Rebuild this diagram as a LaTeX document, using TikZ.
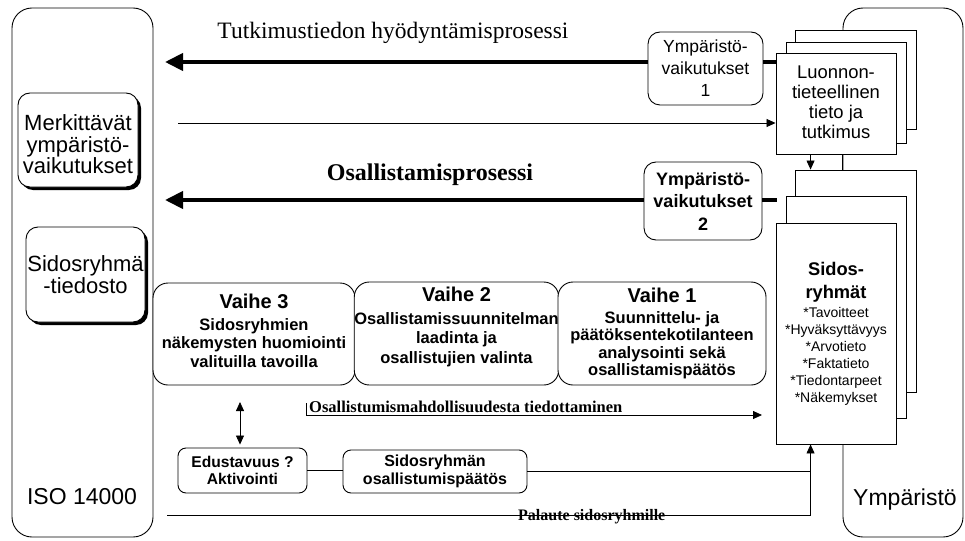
\documentclass[tikz,border=0pt]{standalone}
\usepackage{fontspec}
\setmainfont{Liberation Serif}
\setsansfont{Liberation Sans}
\usetikzlibrary{arrows.meta,shadows,calc}
\newcommand\fsz[2]{\fontsize{#1}{#2}\selectfont}
\begin{document}
\begin{tikzpicture}[x=1pt,y=-1pt,
  frame/.style={draw, line width=0.9pt, rounded corners=20pt, fill=white, inner sep=0pt},
  rbox/.style={draw, line width=0.9pt, rounded corners=12pt, fill=white, align=center, inner sep=0pt},
  sbox/.style={rbox, drop shadow={shadow xshift=3pt,shadow yshift=-3pt,fill=black,opacity=1}},
  sheet/.style={draw, line width=0.9pt, fill=white, inner sep=0pt, align=center},
  bigarrow/.style={line width=4pt, -{Triangle[length=18pt,width=17pt]}},
  thinline/.style={line width=0.8pt},
  thinarrow/.style={thinline, -{Triangle[length=9pt,width=8pt]}},
  txt/.style={inner sep=0pt, align=center}
]
\useasboundingbox (0,0) rectangle (965,540);

% frames
\node[frame, minimum width=141pt, minimum height=529pt] (lframe) at (82.5,272.5) {};
\node[frame, minimum width=120pt, minimum height=529pt] (rframe) at (903,272.5) {};
\node[txt, font=\sffamily\fsz{23}{26}] (iso) at (82,497) {ISO 14000};
\node[txt, font=\sffamily\fsz{23}{26}] (ymp) at (905,500) {Ympäristö};

% left boxes
\node[sbox, minimum width=120pt, minimum height=94pt, text height=68pt, font=\sffamily\fsz{22}{21.5}] (merk) at (78,140)
  {Merkittävät\\ympäristö-\\vaikutukset};
\node[sbox, minimum width=119pt, minimum height=95pt, font=\sffamily\fsz{22}{20.5}] (sidt) at (85.5,274.5)
  {Sidosryhmä\\-tiedosto};

% Luonnon stack
\node[sheet, minimum width=121pt, minimum height=99pt] (lback) at (855.5,79.5) {};
\node[sheet, minimum width=120pt, minimum height=101pt] (lmid) at (846,92.5) {};
\node[sheet, minimum width=120pt, minimum height=101pt, text height=70pt, font=\sffamily\fsz{18.4}{20}] (lfront) at (836,103.5)
  {Luonnon-\\tieteellinen\\tieto ja\\tutkimus};

% Sidosryhmat stack
\node[sheet, minimum width=121pt, minimum height=222pt] (sback) at (855.5,281) {};
\node[sheet, minimum width=120pt, minimum height=222pt] (smid) at (846,307) {};
\node[sheet, minimum width=120pt, minimum height=221pt, font=\sffamily\fsz{14}{17}] (sfront) at (836,333.5)
  {{\fsz{18.3}{23}\bfseries Sidos-}\\[6pt]{\fsz{18.3}{23}\bfseries ryhmät}\\[2pt]
   *Tavoitteet\\*Hyväksyttävyys\\*Arvotieto\\*Faktatieto\\*Tiedontarpeet\\*Näkemykset};

% Ymparistovaikutukset boxes
\node[rbox, minimum width=115pt, minimum height=73pt, font=\sffamily\fsz{17.5}{22}] (ymp1) at (705.5,68.5)
  {Ympäristö-\\vaikutukset\\1};
\node[rbox, minimum width=118pt, minimum height=78pt, font=\sffamily\bfseries\fsz{18}{22.5}] (ymp2) at (703,201)
  {Ympäristö-\\vaikutukset\\2};

% process titles
\node[txt, font=\rmfamily\fsz{23.5}{28}] (t1) at (393,33) {Tutkimustiedon hyödyntämisprosessi};
\node[txt, font=\rmfamily\bfseries\fsz{24}{28}] (t2) at (430,175) {Osallistamisprosessi};

% Vaihe boxes
\node[rbox, rounded corners=15pt, minimum width=202pt, minimum height=102pt, text depth=6pt, font=\sffamily\bfseries\fsz{16.5}{18.5}] (v3) at (254,334)
  {{\fsz{20}{22}Vaihe 3}\\[3pt]Sidosryhmien\\näkemysten huomiointi\\valituilla tavoilla};
\node[rbox, rounded corners=15pt, minimum width=203pt, minimum height=103pt, text depth=16pt, font=\sffamily\bfseries\fsz{16.5}{19.5}] (v2) at (456.5,333.5)
  {{\fsz{20}{22}Vaihe 2}\\[3pt]Osallistamissuunnitelman\\laadinta ja\\osallistujien valinta};
\node[rbox, rounded corners=15pt, minimum width=208pt, minimum height=103pt, font=\sffamily\bfseries\fsz{16.5}{17.5}] (v1) at (662,333.5)
  {{\fsz{20}{22}Vaihe 1}\\[3pt]Suunnittelu- ja\\päätöksentekotilanteen\\analysointi sekä\\osallistamispäätös};

% lower boxes
\node[rbox, rounded corners=8pt, minimum width=129pt, minimum height=45pt, font=\sffamily\bfseries\fsz{15.6}{17}] (edu) at (242.5,470.5)
  {Edustavuus ?\\Aktivointi};
\node[rbox, rounded corners=8pt, minimum width=184pt, minimum height=43pt, font=\sffamily\bfseries\fsz{16}{18}] (sdp) at (435,471.5)
  {Sidosryhmän\\osallistumispäätös};

% thick arrows
\coordinate (a1tip) at (165,62);
\draw[bigarrow] (ymp1.west |- a1tip) -- (a1tip);
\draw[line width=4pt] (ymp1.east |- a1tip) -- (lfront.west |- a1tip);
\coordinate (a2tip) at (165,200);
\coordinate (a2end) at (777,200);
\draw[bigarrow] (ymp2.west |- a2tip) -- (a2tip);
\draw[line width=4pt] (ymp2.east |- a2tip) -- (a2end);

% thin arrows
\coordinate (c1) at (178,123);
\draw[thinarrow] (c1) -- (lfront.west |- c1);
\coordinate (d1) at ($(lfront.south west)+(35,0)$);
\draw[thinarrow] (d1) -- (d1 |- sback.north);
\coordinate (d2) at ($(lfront.south west)+(67,0)$);
\draw[thinline] (d2) -- (d2 |- sback.north);

\coordinate (da1) at (240,402);
\draw[thinline, {Triangle[length=9pt,width=8pt]}-{Triangle[length=9pt,width=8pt]}, shorten >=3pt] (da1) -- (da1 |- edu.north);

\draw[thinline] (edu.east) -- (sdp.west |- edu.east);
\coordinate (s1) at ($(sfront.south west)+(35,0)$);
\draw[thinarrow] (sdp.east) -| (s1);
\coordinate (p1) at (167,515);
\draw[thinline] (p1) -| ($(s1)+(0,27)$);

\coordinate (o1) at (306,403);
\coordinate (o2) at (762,415);
\draw[thinarrow] (o1) |- (o2);

% connector labels
\node[anchor=base west, inner sep=0pt, font=\rmfamily\bfseries\fsz{16.5}{18}] (l1) at (309,412) {Osallistumismahdollisuudesta tiedottaminen};
\node[anchor=base west, inner sep=0pt, font=\rmfamily\bfseries\fsz{16}{18}] (l2) at (518,520) {Palaute sidosryhmille};
\end{tikzpicture}
\end{document}
